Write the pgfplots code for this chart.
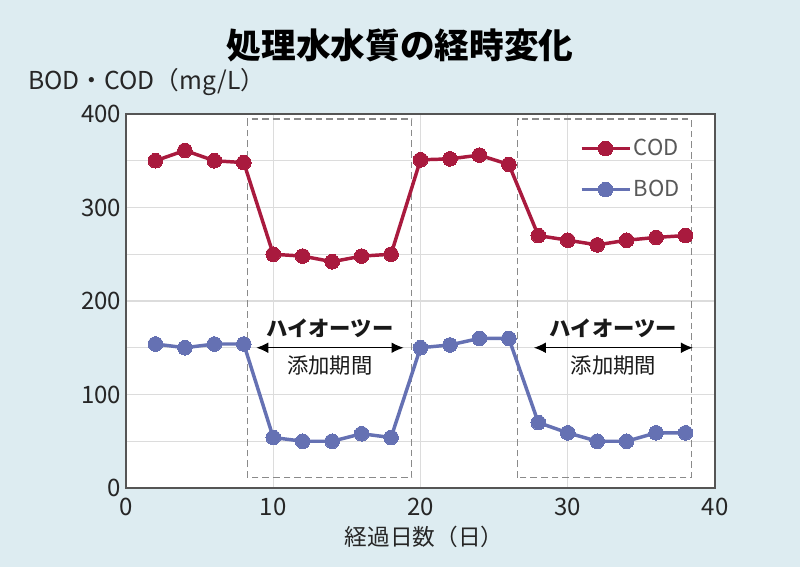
\documentclass[border=0pt]{standalone}
\usepackage{fontspec}
\setmainfont{Noto Sans CJK JP}
\usepackage{pgfplots}
\pgfplotsset{compat=1.18}
\usetikzlibrary{arrows.meta}
\definecolor{bg}{HTML}{DDECF1}
\definecolor{codc}{HTML}{A91A3E}
\definecolor{bodc}{HTML}{6571B3}
\definecolor{gridc}{HTML}{DCDCDC}
\definecolor{framec}{HTML}{555555}
\definecolor{boxc}{HTML}{8A8A8A}
\begin{document}
\begin{tikzpicture}
\fill[bg] (0,0) rectangle (600pt,425.25pt);
\begin{axis}[
  at={(94.5pt,59.25pt)}, anchor=south west,
  scale only axis, width=441.75pt, height=280.5pt,
  xmin=0, xmax=40, ymin=0, ymax=400,
  xtick={0,10,20,30,40}, ytick={0,100,200,300,400},
  minor ytick={50,150,250,350},
  grid=both,
  major grid style={gridc, line width=0.8pt},
  minor grid style={gridc, line width=0.8pt},
  tick style={draw=none},
  axis line style={framec, line width=1pt},
  axis background/.style={fill=white},
  ticklabel style={font=\fontsize{18}{20}\selectfont, text=black!85},
  xticklabel style={yshift=-4pt},
  /pgf/number format/assume math mode=true,
  legend style={at={(0.77,0.94)}, anchor=north west, draw=none, fill=none,
    font=\fontsize{16.5}{18}\selectfont, text=black!65, row sep=13pt,
    inner sep=0pt, cells={anchor=west}},
  legend image code/.code={\draw[mark repeat=2,mark phase=2,#1] plot coordinates {(0pt,0pt) (18pt,0pt) (36pt,0pt)};},
  clip=false,
]
\draw[boxc, line width=1pt, dash pattern=on 5pt off 3pt] (axis cs:8.25,11) rectangle (axis cs:19.4,394.5);
\draw[boxc, line width=1pt, dash pattern=on 5pt off 3pt] (axis cs:26.6,11) rectangle (axis cs:38.4,394.5);
\addplot[codc, line width=2.6pt, mark=*, mark size=5.5pt, mark options={fill=codc, draw=codc, line width=0pt}] coordinates {
 (2,350) (4,361) (6,350) (8,348) (10,250) (12,248) (14,242) (16,248) (18,250)
 (20,351) (22,352) (24,356) (26,346) (28,270) (30,265) (32,260) (34,265) (36,268) (38,270)};
\addlegendentry{COD}
\addplot[bodc, line width=2.6pt, mark=*, mark size=5.5pt, mark options={fill=bodc, draw=bodc, line width=0pt}] coordinates {
 (2,154) (4,150) (6,154) (8,154) (10,54) (12,50) (14,50) (16,58) (18,54)
 (20,150) (22,153) (24,160) (26,160) (28,70) (30,59) (32,50) (34,50) (36,59) (38,59)};
\addlegendentry{BOD}
\draw[{Latex[length=9pt,width=8pt]}-{Latex[length=9pt,width=8pt]}, line width=0.8pt] (axis cs:8.85,150) -- (axis cs:18.85,150);
\draw[{Latex[length=9pt,width=8pt]}-{Latex[length=9pt,width=8pt]}, line width=0.8pt] (axis cs:27.7,150) -- (axis cs:38.5,150);
\node[font=\bfseries\fontsize{16}{16}\selectfont, text=black!90] at (axis cs:13.85,171) {ハイオーツー};
\node[font=\fontsize{16}{16}\selectfont, text=black!90] at (axis cs:13.85,131) {添加期間};
\node[font=\bfseries\fontsize{16}{16}\selectfont, text=black!90] at (axis cs:33.1,171) {ハイオーツー};
\node[font=\fontsize{16}{16}\selectfont, text=black!90] at (axis cs:33.1,131) {添加期間};
\end{axis}
\node[font=\bfseries\fontsize{26}{26}\selectfont] at (300pt,391.5pt) {処理水水質の経時変化};
\node[anchor=west, font=\fontsize{18.5}{20}\selectfont, text=black!85, inner sep=0pt] at (21pt,363.75pt) {BOD・COD（mg/L）};
\node[font=\fontsize{17}{19}\selectfont, text=black!85] at (318pt,22.5pt) {経過日数（日）};
\pgfresetboundingbox
\path (0,0) rectangle (600pt,425.25pt);
\end{tikzpicture}
\end{document}
